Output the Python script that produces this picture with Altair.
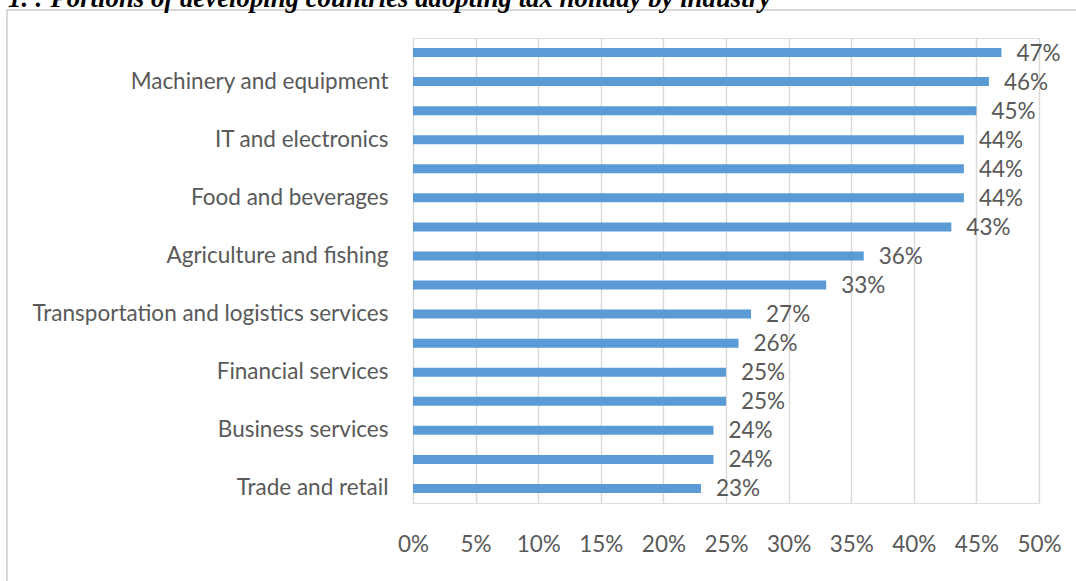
import altair as alt
import pandas as pd

title_text = "1. : Portions of developing countries adopting tax holiday by industry"

categories = [
    "Chemicals and pharmaceuticals",
    "Machinery and equipment",
    "Automotive",
    "IT and electronics",
    "Textiles and apparel",
    "Food and beverages",
    "Mining and extraction",
    "Agriculture and fishing",
    "Tourism",
    "Transportation and logistics services",
    "Energy and utilities",
    "Financial services",
    "Construction",
    "Business services",
    "Telecommunications",
    "Trade and retail",
]
values = [47, 46, 45, 44, 44, 44, 43, 36, 33, 27, 26, 25, 25, 24, 24, 23]
labeled = categories[1::2]
x_ticks = [0, 0.05, 0.10, 0.15, 0.20, 0.25, 0.30, 0.35, 0.40, 0.45, 0.50]

df = pd.DataFrame({"industry": categories, "share": [v / 100 for v in values]})

FONT = "Lato"
FS = 22.5
TXT = "#595959"
GRID = "#d9d9d9"

y_enc = alt.Y(
    "industry:N",
    sort=categories,
    scale=alt.Scale(paddingInner=0.69, paddingOuter=0.345),
    axis=alt.Axis(values=labeled, title=None, ticks=False, domain=False,
                  labelPadding=25, labelFontSize=FS, labelColor=TXT,
                  labelFont=FONT, labelLimit=500),
)
x_enc = alt.X(
    "share:Q",
    scale=alt.Scale(domain=[0, 0.5], nice=False),
    axis=alt.Axis(values=x_ticks, format=".0%", title=None, ticks=False,
                  domain=False, labelPadding=30, labelFontSize=FS,
                  labelColor=TXT, labelFont=FONT, grid=True, gridColor=GRID,
                  gridWidth=1.4, labelOverlap=False, labelFlush=False),
)

bars = alt.Chart(df).mark_bar(color="#5B9BD5").encode(x=x_enc, y=y_enc)
labels = alt.Chart(df).mark_text(
    align="left", baseline="middle", dx=15, dy=1, fontSize=FS, font=FONT, color=TXT
).encode(x="share:Q", y=alt.Y("industry:N", sort=categories), text=alt.Text("share:Q", format=".0%"))

one = alt.Data(values=[{"k": 1}])
title = alt.Chart(one).mark_text(
    align="left", baseline="alphabetic", font="Liberation Serif", fontSize=26.8,
    fontStyle="italic", fontWeight="bold", color="#000000"
).encode(x=alt.value(-405), y=alt.value(-31), text=alt.value(title_text))

frame_left = alt.Chart(one).mark_rule(color=GRID, strokeWidth=2).encode(
    x=alt.value(-406), y=alt.value(-28), y2=alt.value(545))
frame_top = alt.Chart(one).mark_rule(color=GRID, strokeWidth=2).encode(
    x=alt.value(-407), x2=alt.value(700), y=alt.value(-28))

chart = alt.layer(frame_left, frame_top, bars, labels, title).properties(
    width=626, height=465,
    padding={"left": 413, "top": 38, "right": 37, "bottom": 78},
    autosize=alt.AutoSizeParams(type="none"),
).configure_view(stroke=None).configure(background="white")

chart.save("out.html", embed_options={"renderer": "svg", "actions": False})
